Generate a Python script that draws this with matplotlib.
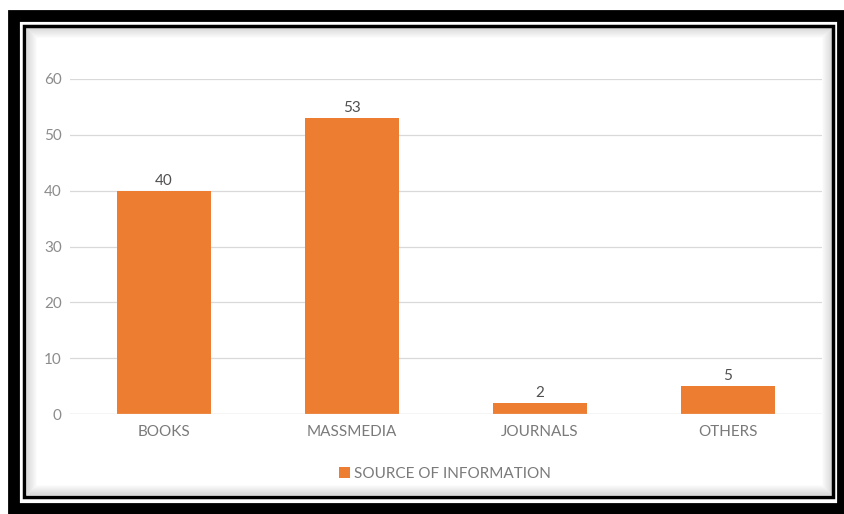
import matplotlib
matplotlib.use("Agg")
import matplotlib.pyplot as plt
from matplotlib.patches import Rectangle
import numpy as np

categories = ["BOOKS", "MASSMEDIA", "JOURNALS", "OTHERS"]
values = [40, 53, 2, 5]
series_name = "SOURCE OF INFORMATION"
yticks = [0, 10, 20, 30, 40, 50, 60]

W, H = 845, 514
fig = plt.figure(figsize=(W / 100, H / 100), dpi=100)
fig.patch.set_facecolor("white")
plt.rcParams["font.family"] = ["Lato", "DejaVu Sans"]

def frame(x0, y0, x1, y1, lw, color, alpha=1.0):
    # rectangle given in pixel coords from top-left
    fig.patches.append(Rectangle((x0 / W, 1 - y1 / H), (x1 - x0) / W, (y1 - y0) / H,
                                 transform=fig.transFigure, fill=False,
                                 edgecolor=color, linewidth=lw, alpha=alpha))

# thick outer border, white gap, thin inner border
frame(14, 15.5, 843, 509, 8.5, "black")
frame(24.5, 25.5, 833, 496.5, 2.5, "black")
# soft shadow inside the inner border
for i in range(10):
    frame(27 + i, 28 + i, 831 - i, 494 - i, 0.8, "black", alpha=0.13 * (1 - i / 10))

ax = fig.add_axes([70 / W, 1 - 414 / H, 752 / W, 335 / H])
x = np.arange(len(categories))
bars = ax.bar(x, values, width=0.5, color="#ED7D31", label=series_name, zorder=3)
for xi, v in zip(x, values):
    ax.text(xi, v + 0.5, str(v), ha="center", va="bottom", fontsize=11, color="#505050")

ax.set_xlim(-0.5, len(categories) - 0.5)
ax.set_ylim(0, 60)
ax.set_yticks(yticks)
ax.set_xticks(x)
ax.set_xticklabels(categories)
ax.tick_params(axis="both", length=0, labelsize=11, labelcolor="#7a7a7a")
ax.tick_params(axis="y", pad=6, labelcolor="#8c8c8c")
ax.tick_params(axis="x", pad=8)
ax.grid(axis="y", color="#D9D9D9", linewidth=0.9, zorder=0)
for s in ax.spines.values():
    s.set_visible(False)
ax.axhline(0, color="#D9D9D9", linewidth=0.9, zorder=4)

fig.legend(handles=[bars], labels=[series_name], loc="center",
           bbox_to_anchor=(445 / W, 1 - 474 / H), frameon=False,
           fontsize=11, labelcolor="#7a7a7a", handlelength=0.75, handleheight=0.75,
           handletextpad=0.25)

fig.savefig("out.png", dpi=100)
